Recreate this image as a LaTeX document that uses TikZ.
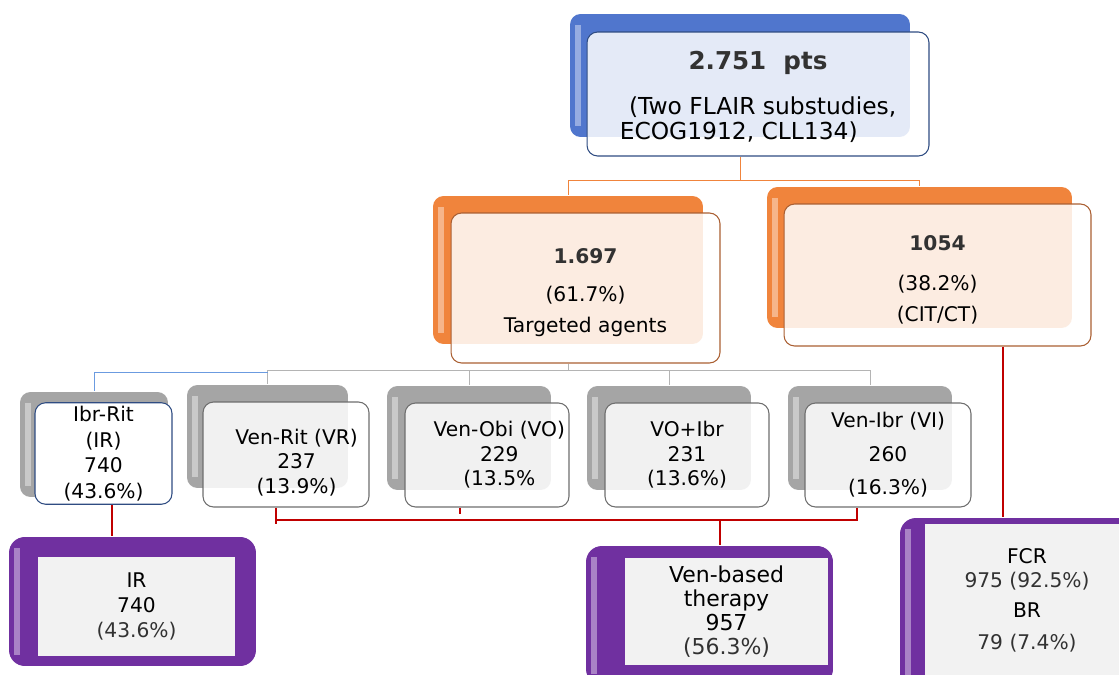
\documentclass[tikz,border=0pt]{standalone}
\usepackage{fontspec}
\setmainfont{DejaVu Sans}
\usepackage{tikz}
\usetikzlibrary{backgrounds}
\usetikzlibrary{calc}
\usetikzlibrary{positioning}
\definecolor{bluebox}{RGB}{80,118,205}
\definecolor{blueedge}{RGB}{47,76,130}
\definecolor{orangebox}{RGB}{240,132,60}
\definecolor{orangeedge}{RGB}{170,95,50}
\definecolor{graybox}{RGB}{165,165,165}
\definecolor{grayedge}{RGB}{110,110,110}
\definecolor{purplebox}{RGB}{112,48,160}
\definecolor{innergray}{RGB}{242,242,242}
\definecolor{redline}{RGB}{192,0,0}
\definecolor{numgray}{RGB}{50,50,50}
\definecolor{splitgray}{RGB}{180,180,180}
\definecolor{splitblue}{RGB}{107,155,224}

\begin{document}
\begin{tikzpicture}[
            x = 0.02cm, y = -0.02cm, % one unit = one pixel of the layout
            font = \fontsize{11.5}{14}\selectfont,
            semithick
        ]

        \useasboundingbox (0,0) rectangle (1119,675);

        \tikzstyle{backbox}=[
            rectangle,
            rounded corners = 6pt,
            draw = none,
            inner sep = 0pt,
            path picture = {\fill[white, opacity=.4, sharp corners]
                ([xshift=3pt,yshift=-6pt]path picture bounding box.north west) rectangle
                ([xshift=6pt,yshift=6pt]path picture bounding box.south west);}
        ]
        \tikzstyle{frontbox}=[
            rectangle,
            rounded corners = 6pt,
            fill = white,
            fill opacity = .85,
            text opacity = 1,
            line width = .6pt,
            align = center,
            inner sep = 2pt
        ]
        \tikzstyle{innerbox}=[rectangle, fill = innergray, align = center, inner sep = 0pt]
        \tikzstyle{orangeline}=[draw = orangebox, thin]
        \tikzstyle{grayline}=[draw = splitgray, thin]
        \tikzstyle{redl}=[draw = redline, line width = 1pt]

        % all patients
        \node[backbox, fill = bluebox, minimum width = 6.8cm, minimum height = 2.46cm] (allback) at (740,75.5) {};
        \node[frontbox, draw = blueedge, minimum width = 6.84cm, minimum height = 2.48cm,
              font = \fontsize{13.3}{13.3}\selectfont] (all) at (758,94)
              {\rule{0pt}{16pt}\textcolor{numgray}{\fontsize{14}{14}\selectfont\textbf{2.751~~pts}}\\[12pt]
               \begin{tabular}[t]{@{}l@{}}\hspace{.4em}(Two FLAIR substudies,\\ECOG1912, CLL134)\end{tabular}};

        % targeted agents / chemo-immunotherapy
        \node[backbox, fill = orangebox, minimum width = 5.4cm, minimum height = 2.96cm] (targetback) at (568,270) {};
        \node[frontbox, draw = orangeedge, minimum width = 5.38cm, minimum height = 3cm,
              font = \fontsize{11.5}{13.5}\selectfont] (target) at (585.5,288)
              {\rule{0pt}{14pt}\textcolor{numgray}{\fontsize{11.5}{13}\selectfont\textbf{1.697}}\\[8pt] (61.7\%)\\[4pt] Targeted agents};

        \node[backbox, fill = orangebox, minimum width = 6.1cm, minimum height = 2.82cm] (citback) at (919.5,257.5) {};
        \node[frontbox, draw = orangeedge, minimum width = 6.14cm, minimum height = 2.84cm,
              font = \fontsize{11.5}{13.5}\selectfont] (cit) at (937.5,275)
              {\rule{0pt}{14pt}\textcolor{numgray}{\fontsize{11.5}{13}\selectfont\textbf{1054}}\\[9pt] (38.2\%)\\[4pt] (CIT/CT)};

        % regimens
        \node[backbox, fill = graybox, minimum width = 2.96cm, minimum height = 2.1cm] (irback) at (94,444.5) {};
        \node[frontbox, draw = blueedge, fill opacity = 1, minimum width = 2.74cm, minimum height = 1.94cm,
              font = \fontsize{11.5}{14.5}\selectfont] (ir) at (103.5,453.5)
              {Ibr-Rit\\(IR)\\740\\(43.6\%)};

        \node[backbox, fill = graybox, minimum width = 3.22cm, minimum height = 2.06cm] (vrback) at (267.5,436.5) {};
        \node[frontbox, draw = grayedge, minimum width = 3.32cm, minimum height = 2.1cm] (vr) at (286,454.5)
              {\rule{0pt}{18pt}\hspace*{12pt}Ven-Rit (VR)\\\hspace*{12pt}237\\\hspace*{12pt}(13.9\%)};

        \node[backbox, fill = graybox, minimum width = 3.28cm, minimum height = 2.08cm] (voback) at (469,438) {};
        \node[frontbox, draw = grayedge, minimum width = 3.28cm, minimum height = 2.08cm] (vo) at (487,455)
              {\hspace*{14pt}Ven-Obi (VO)\\\hspace*{14pt}229\\\hspace*{14pt}(13.5\%};

        \node[backbox, fill = graybox, minimum width = 3.28cm, minimum height = 2.08cm] (voiback) at (669,438) {};
        \node[frontbox, draw = grayedge, minimum width = 3.28cm, minimum height = 2.08cm] (voi) at (687,455)
              {VO+Ibr\\231\\(13.6\%)};

        \node[backbox, fill = graybox, minimum width = 3.28cm, minimum height = 2.08cm] (viback) at (870,438) {};
        \node[frontbox, draw = grayedge, minimum width = 3.32cm, minimum height = 2.08cm] (vi) at (888,455)
              {Ven-Ibr (VI)\\[5pt]260\\[5pt](16.3\%)};

        % grouped outcomes
        \node[backbox, fill = purplebox, rounded corners = 9pt, minimum width = 4.94cm, minimum height = 2.58cm] (irout) at (132.5,601.5) {};
        \node[innerbox, minimum width = 3.94cm, minimum height = 1.98cm] (irin) at (136.5,606.5)
              {IR\\740\\\textcolor{numgray}{(43.6\%)}};

        \node[backbox, fill = purplebox, rounded corners = 9pt, minimum width = 4.94cm, minimum height = 2.78cm] (venout) at (709.5,615.5) {};
        \node[innerbox, minimum width = 4.06cm, minimum height = 2.14cm,
              font = \fontsize{12.5}{13.7}\selectfont] (venin) at (726.5,611.5)
              {Ven-based\\therapy\\957\\\textcolor{numgray}{(56.3\%)}};

        \node[backbox, fill = purplebox, rounded corners = 9pt, minimum width = 4.8cm, minimum height = 3.64cm] (fcrout) at (1020,609) {};
        \node[innerbox, minimum width = 4.08cm, minimum height = 3.42cm] (fcrin) at (1027,609.5) {};
        \node[align = center, inner sep = 0pt] (fcrtext) at (1027,600)
              {FCR\\\textcolor{numgray}{975 (92.5\%)}\\[3pt]BR\\[4pt]\textcolor{numgray}{79 (7.4\%)}};

        \begin{scope}[on background layer]
            % first split
            \coordinate (split) at (740,180);
            \draw[orangeline] (allback.center |- all.south) -- (split);
            \draw[orangeline] (split) -| (targetback.north);
            \draw[orangeline] (split) -| (citback.north);

            % targeted split
            \coordinate (tsplit) at (568,370);
            \draw[grayline] (targetback.center |- target.south) -- (tsplit);
            \draw[grayline] (tsplit) -| (vrback.north);
            \draw[grayline] (tsplit) -| (voback.north);
            \draw[grayline] (tsplit) -| (voiback.north);
            \draw[grayline] (tsplit) -| (viback.north);
            \draw[draw = splitblue, thin] (vrback.north |- 0,372) -| (irback.north);

            % outcome links
            \coordinate (irdrop) at ($(ir.south)+(8.5,0)$);
            \draw[redl] (irdrop) -- (irdrop |- irout.north);

            \coordinate (vrdrop) at ($(vr.south)+(-10,0)$);
            \coordinate (vodrop) at ($(vo.south)+(-27,0)$);
            \coordinate (vidrop) at ($(vi.south)+(-31,0)$);
            \coordinate (venbar) at (720,520);
            \draw[redl] (vrdrop) -- ++(0,16);
            \draw[redl] (vrdrop |- venbar) -- (vidrop |- venbar) -- (vidrop);
            \draw[redl] (vodrop) -- ++(0,6);
            \draw[redl] (venbar) -- (venbar |- venout.north);

            \coordinate (citdrop) at ($(cit.south)+(65.5,0)$);
            \draw[redl] (citdrop) -- (citdrop |- fcrout.north);
        \end{scope}
\end{tikzpicture}
\end{document}
